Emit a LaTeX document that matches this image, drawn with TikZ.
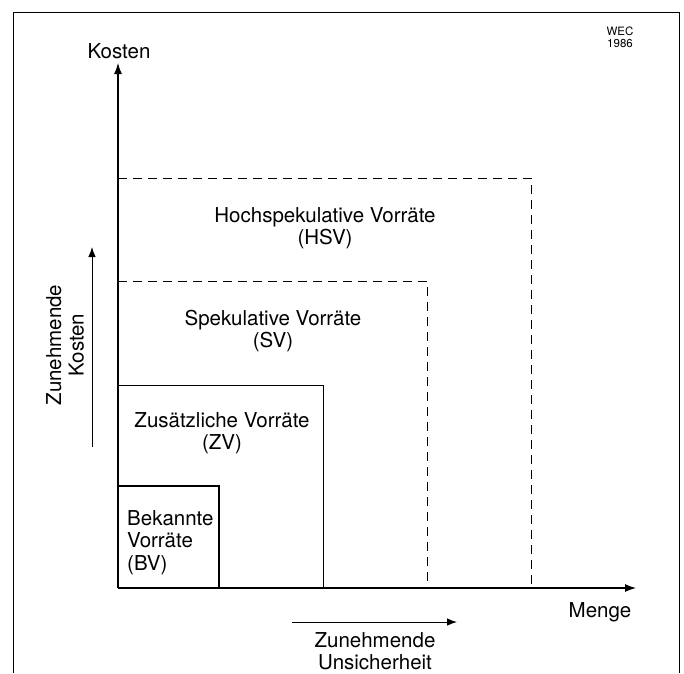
\documentclass[tikz,border=0pt]{standalone}
\usepackage{fontspec}
\setmainfont{TeX Gyre Heros}
\usetikzlibrary{arrows.meta}
\begin{document}
\begin{tikzpicture}[x=1pt,y=-1pt,
  lbl/.style={font=\fontsize{20.5}{22.5}\selectfont, align=center, inner sep=0pt},
  ax/.style={line width=1.1pt, -{Latex[length=11pt,width=8pt]}},
  thin/.style={line width=0.8pt},
  dsh/.style={line width=0.8pt, dash pattern=on 9pt off 6pt}]
\useasboundingbox (0,0) rectangle (684,673);
% frame
\draw[thin] (13,673) -- (13,12) -- (679,12) -- (679,673);
% coordinates
\coordinate (O) at (118,588);
\coordinate (ytip) at (118,63);
\coordinate (xtip) at (636,588);
% rectangles
\draw[dsh] (118,178) -- (531,178) -- (531,588);
\draw[dsh] (118,281) -- (427,281) -- (427,588);
\draw[thin] (118,385) -- (323,385) -- (323,588);
\draw[line width=2.2pt] (118,486) -- (219,486) -- (219,588);
% axes
\draw[ax] (O) -- (ytip);
\draw[ax] (O) -- (xtip);
\node[lbl, anchor=base] (kosten) at (119,58) {Kosten};
\node[lbl, anchor=base] (menge) at (600,617) {Menge};
% labels
\node[lbl] (hsv) at (325,228) {Hochspekulative Vorräte\\(HSV)};
\node[lbl] (sv) at (273,331) {Spekulative Vorräte\\(SV)};
\node[lbl] (zv) at (222,433) {Zusätzliche Vorräte\\(ZV)};
\node[lbl, align=left, anchor=north west] (bv) at (127,510) {Bekannte\\Vorräte\\(BV)};
\node[font=\fontsize{11.5}{12}\selectfont, align=center, inner sep=0pt] (wec) at (620,37) {WEC\\1986};
% side arrows
\coordinate (ks) at (92,447);
\coordinate (ke) at (92,247);
\draw[line width=0.9pt, -{Latex[length=10pt,width=7.5pt]}] (ks) -- (ke);
\node[lbl, rotate=90] (zk) at (65,345) {Zunehmende\\Kosten};
\coordinate (us) at (292,622);
\coordinate (ue) at (457,622);
\draw[line width=0.9pt, -{Latex[length=10pt,width=7.5pt]}] (us) -- (ue);
\node[lbl, anchor=south] (zu) at (375,670.5) {Zunehmende\\Unsicherheit};
\end{tikzpicture}
\end{document}
